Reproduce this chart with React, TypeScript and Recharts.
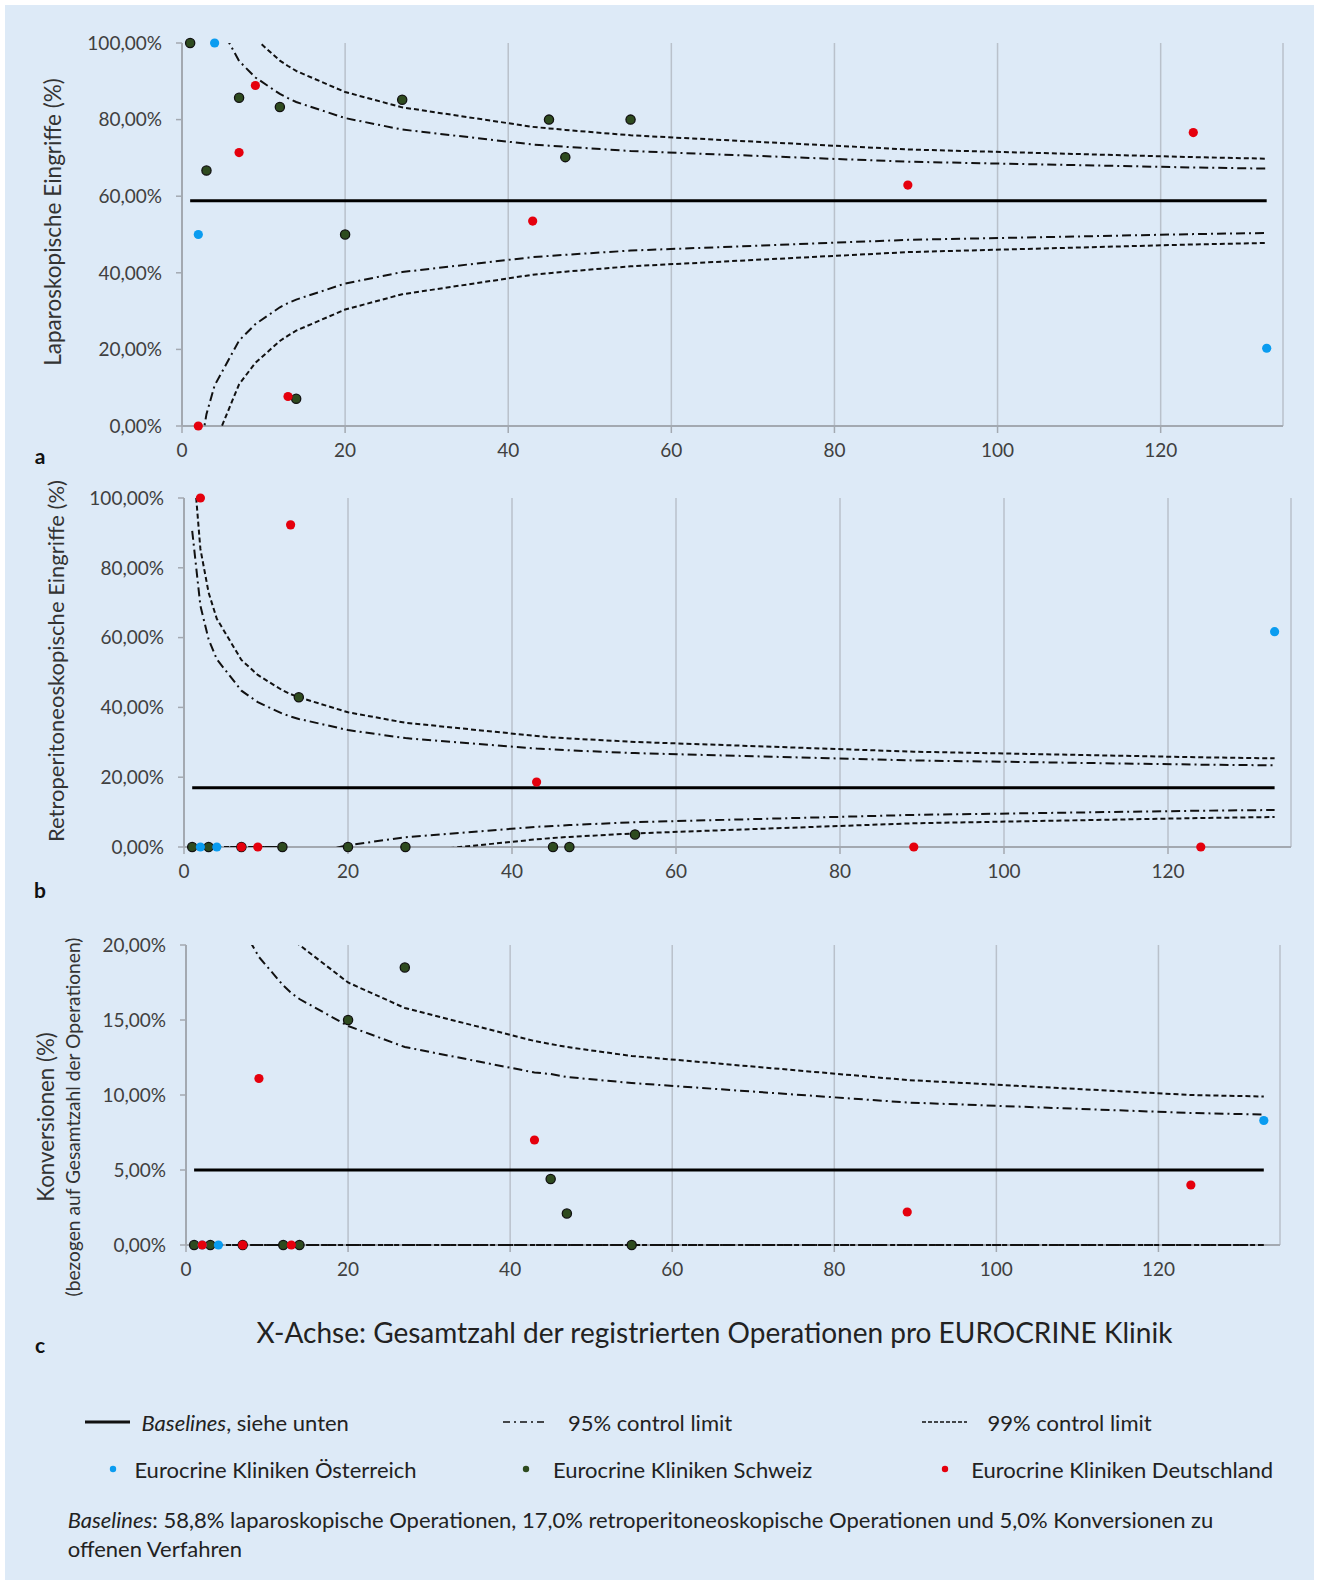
import { ComposedChart, Line, Scatter, XAxis, YAxis, CartesianGrid } from "recharts";

// Fallzahlen der Kliniken (x-Werte der Kontrollgrenzen)
const klinikN = [1, 2, 3, 4, 7, 9, 12, 13, 14, 20, 27, 43, 45, 47, 55, 89, 124, 133];
const baselineN = [1, 133];
const xTicks = [0, 20, 40, 60, 80, 100, 120];

// Österreich
const nAT = [2, 4, 133];
const lapAT = [50, 100, 20.3];
const retroAT = [0, 0, 61.7];
const konvAT = [0, 0, 8.3];

// Schweiz
const nCH = [1, 3, 7, 12, 14, 20, 27, 45, 47, 55];
const lapCH = [100, 66.7, 85.7, 83.3, 7.1, 50, 85.2, 80, 70.2, 80];
const retroCH = [0, 0, 0, 0, 42.9, 0, 0, 0, 0, 3.6];
const konvCH = [0, 0, 0, 0, 0, 15, 18.5, 4.4, 2.1, 0];

// Deutschland
const nDE = [2, 7, 9, 13, 43, 89, 124];
const lapDE = [0, 71.4, 88.9, 7.7, 53.5, 62.9, 76.6];
const retroDE = [100, 0, 0, 92.3, 18.6, 0, 0];
const konvDE = [0, 0, 11.1, 0, 7.0, 2.2, 4.0];

// Kontrollgrenzen a (laparoskopisch)
const lapUp95 = [155, 127, 114.5, 107, 95.3, 91, 86.7, 85.6, 84.6, 80.4, 77.4, 73.5, 73.2, 72.9, 71.8, 69, 67.5, 67.2];
const lapLo95 = [-37.7, -9.4, 3.1, 10.6, 22.3, 26.6, 31, 32.1, 33, 37.2, 40.2, 44.1, 44.4, 44.7, 45.8, 48.6, 50.1, 50.4];
const lapUp99 = [185.6, 148.4, 132, 122.2, 106.7, 101.1, 95.4, 94, 92.7, 87.2, 83.2, 78.1, 77.7, 77.3, 75.9, 72.2, 70.2, 69.8];
const lapLo99 = [-68, -30.8, -14.4, -4.6, 10.9, 16.5, 22.2, 23.6, 24.9, 30.4, 34.4, 39.5, 39.9, 40.3, 41.7, 45.4, 47.4, 47.8];

// Kontrollgrenzen b (retroperitoneoskopisch)
const retroUp95 = [90.6, 69.1, 59.5, 53.8, 44.8, 41.5, 38.2, 37.4, 36.7, 33.5, 31.2, 28.2, 28, 27.7, 26.9, 24.8, 23.6, 23.4];
const retroLo95 = [0, 0, 0, 0, 0, 0, 0, -3.4, -2.7, 0.5, 2.8, 5.8, 6, 6.3, 7.1, 9.2, 10.4, 10.6];
const retroUp99 = [113.8, 85.4, 72.9, 65.4, 53.6, 49.3, 44.9, 43.8, 42.9, 38.6, 35.6, 31.8, 31.4, 31.1, 30.1, 27.3, 25.7, 25.4];
const retroLo99 = [0, 0, 0, 0, 0, 0, 0, -9.8, -8.9, -4.6, -1.6, 2.2, 2.6, 2.9, 3.9, 6.8, 8.3, 8.6];

// Kontrollgrenzen c (Konversionen)
const konvUp95 = [47.7, 35.2, 29.7, 26.4, 21.1, 19.2, 17.3, 16.8, 16.4, 14.6, 13.2, 11.5, 11.4, 11.2, 10.8, 9.5, 8.8, 8.7];
const konvLo95 = [0, 0, 0, 0, 0, 0, 0, 0, 0, 0, 0, 0, 0, 0, 0, 0, 0, 0];
const konvUp99 = [61.1, 44.7, 37.4, 33.1, 26.2, 23.7, 21.2, 20.6, 20, 17.5, 15.8, 13.6, 13.4, 13.2, 12.6, 11, 10, 9.9];
const konvLo99 = [0, 0, 0, 0, 0, 0, 0, 0, 0, 0, 0, 0, 0, 0, 0, 0, 0, 0];

const W = 1319;
const Y_AXIS_W = 100;
const X_AXIS_H = 30;
const BLUE = "#0a9cf0";
const GREEN = "#2e4b1f";
const RED = "#e5000d";
const AXIS = "#a3a9b1";
const GRID = "#b9c1cb";
const DASH95 = "9 4 2 4";
const DASH99 = "5 3";

const pts = (ns: number[], vs: number[]) => ns.map((n, i) => ({ n, v: vs[i] }));
const pct = (v: number) => v.toFixed(2).replace(".", ",") + "%";

interface PanelProps {
  top: number;
  height: number;
  plotLeft: number;
  plotTop: number;
  plotWidth: number;
  plotHeight: number;
  yMax: number;
  yTicks: number[];
  baseline: number;
  up95: number[];
  lo95: number[];
  up99: number[];
  lo99: number[];
  at: number[];
  ch: number[];
  de: number[];
}

const Panel = (p: PanelProps) => {
  const margin = {
    top: p.plotTop - p.top,
    left: p.plotLeft - Y_AXIS_W,
    right: W - p.plotLeft - p.plotWidth,
    bottom: p.height - (p.plotTop - p.top) - p.plotHeight - X_AXIS_H,
  };
  const axisFor = (vs: number[]) => (vs.every((v) => v >= 0 && v <= p.yMax) ? "pts" : "clip");
  const limits = [
    { vs: p.lo99, dash: DASH99 },
    { vs: p.up99, dash: DASH99 },
    { vs: p.lo95, dash: DASH95 },
    { vs: p.up95, dash: DASH95 },
  ];
  const dot = (fill: string, stroke?: string) => (s: any) =>
    <circle cx={s.cx} cy={s.cy} r={4.6} fill={fill} stroke={stroke ?? "none"} strokeWidth={stroke ? 1.3 : 0} />;
  const tickStyle = { fill: "#404040", fontSize: 19, fontFamily: "Lato" };

  return (
    <div style={{ position: "absolute", left: 0, top: p.top }}>
      <ComposedChart width={W} height={p.height} margin={margin}>
        <CartesianGrid horizontal={false} stroke={GRID} strokeWidth={1.5} yAxisId="pts" />
        <XAxis
          dataKey="n"
          type="number"
          domain={[0, 135]}
          ticks={xTicks}
          height={X_AXIS_H}
          axisLine={{ stroke: AXIS, strokeWidth: 2 }}
          tickLine={{ stroke: AXIS, strokeWidth: 1.5 }}
          tickSize={7}
          tickMargin={11}
          tick={tickStyle}
        />
        <YAxis
          yAxisId="pts"
          type="number"
          domain={[0, p.yMax]}
          ticks={p.yTicks}
          width={Y_AXIS_W}
          tickFormatter={pct}
          axisLine={{ stroke: AXIS, strokeWidth: 2 }}
          tickLine={{ stroke: AXIS, strokeWidth: 1.5 }}
          tickSize={6}
          tickMargin={14}
          tick={tickStyle}
        />
        <YAxis yAxisId="clip" type="number" domain={[0, p.yMax]} allowDataOverflow hide width={0} />
        {limits.map((l, i) => (
          <Line
            key={i}
            data={pts(klinikN, l.vs)}
            dataKey="v"
            yAxisId={axisFor(l.vs)}
            type="linear"
            stroke="#111"
            strokeWidth={2}
            strokeDasharray={l.dash}
            dot={false}
            activeDot={false}
            isAnimationActive={false}
            {...({ zIndex: 550 } as any)}
          />
        ))}
        <Line
          data={pts(baselineN, [p.baseline, p.baseline])}
          dataKey="v"
          yAxisId="pts"
          type="linear"
          stroke="#000"
          strokeWidth={3}
          dot={false}
          activeDot={false}
          isAnimationActive={false}
          {...({ zIndex: 550 } as any)}
        />
        <Scatter data={pts(nCH, p.ch)} dataKey="v" yAxisId="pts" shape={dot(GREEN, "#111")} isAnimationActive={false} />
        <Scatter data={pts(nAT, p.at)} dataKey="v" yAxisId="pts" shape={dot(BLUE)} isAnimationActive={false} />
        <Scatter data={pts(nDE, p.de)} dataKey="v" yAxisId="pts" shape={dot(RED)} isAnimationActive={false} />
      </ComposedChart>
    </div>
  );
};

const VLabel = ({ x, y, size, children }: { x: number; y: number; size: number; children: any }) => (
  <div
    style={{
      position: "absolute",
      left: x,
      top: y,
      transform: "translate(-50%, -50%) rotate(-90deg)",
      whiteSpace: "nowrap",
      fontSize: size,
      color: "#333",
    }}
  >
    {children}
  </div>
);

const Letter = ({ y, children }: { y: number; children: any }) => (
  <div style={{ position: "absolute", left: 40, top: y, transform: "translate(-50%, -50%)", fontSize: 21, fontWeight: 700, color: "#111" }}>
    {children}
  </div>
);

const LegendText = ({ x, y, children }: { x: number; y: number; children: any }) => (
  <div style={{ position: "absolute", left: x, top: y, transform: "translateY(-50%)", fontSize: 22, color: "#222", whiteSpace: "nowrap" }}>
    {children}
  </div>
);

const LegendLine = ({ x, y, dash, w }: { x: number; y: number; dash?: string; w: number }) => (
  <svg style={{ position: "absolute", left: x, top: y - 3 }} width={46} height={6}>
    <line x1={0} y1={3} x2={45} y2={3} stroke="#111" strokeWidth={w} strokeDasharray={dash} />
  </svg>
);

const LegendDot = ({ x, y, color }: { x: number; y: number; color: string }) => (
  <svg style={{ position: "absolute", left: x - 4, top: y - 4 }} width={8} height={8}>
    <circle cx={4} cy={4} r={3.2} fill={color} />
  </svg>
);

export default function App() {
  return (
    <div style={{ position: "absolute", left: 0, top: 0, width: W, height: 1585, background: "#fff", fontFamily: "Lato, sans-serif" }}>
      <div style={{ position: "absolute", left: 5, top: 5, width: W - 10, height: 1575, background: "#ddeaf7" }} />

      <Panel
        top={0}
        height={470}
        plotLeft={182}
        plotTop={43}
        plotWidth={1101}
        plotHeight={383}
        yMax={100}
        yTicks={[0, 20, 40, 60, 80, 100]}
        baseline={58.8}
        up95={lapUp95}
        lo95={lapLo95}
        up99={lapUp99}
        lo99={lapLo99}
        at={lapAT}
        ch={lapCH}
        de={lapDE}
      />
      <Panel
        top={460}
        height={440}
        plotLeft={184}
        plotTop={498}
        plotWidth={1107}
        plotHeight={349}
        yMax={100}
        yTicks={[0, 20, 40, 60, 80, 100]}
        baseline={17}
        up95={retroUp95}
        lo95={retroLo95}
        up99={retroUp99}
        lo99={retroLo99}
        at={retroAT}
        ch={retroCH}
        de={retroDE}
      />
      <Panel
        top={905}
        height={380}
        plotLeft={186}
        plotTop={945}
        plotWidth={1094}
        plotHeight={300}
        yMax={20}
        yTicks={[0, 5, 10, 15, 20]}
        baseline={5}
        up95={konvUp95}
        lo95={konvLo95}
        up99={konvUp99}
        lo99={konvLo99}
        at={konvAT}
        ch={konvCH}
        de={konvDE}
      />

      <VLabel x={51.5} y={221.5} size={22.5}>Laparoskopische Eingriffe (%)</VLabel>
      <VLabel x={55} y={660.5} size={22}>Retroperitoneoskopische Eingriffe (%)</VLabel>
      <VLabel x={45} y={1117} size={22.3}>Konversionen (%)</VLabel>
      <VLabel x={72} y={1116.5} size={19.2}>(bezogen auf Gesamtzahl der Operationen)</VLabel>

      <Letter y={455}>a</Letter>
      <Letter y={889}>b</Letter>
      <Letter y={1344}>c</Letter>

      <div style={{ position: "absolute", left: 714.5, top: 1332, transform: "translate(-50%, -50%)", fontSize: 28, color: "#222", whiteSpace: "nowrap" }}>
        X-Achse: Gesamtzahl der registrierten Operationen pro EUROCRINE Klinik
      </div>

      <LegendLine x={85} y={1422} w={3} />
      <LegendText x={141.5} y={1422}><i>Baselines</i>, siehe unten</LegendText>
      <LegendLine x={503} y={1422} w={1.5} dash="7 4 2 4" />
      <LegendText x={568} y={1422}>95% control limit</LegendText>
      <LegendLine x={922} y={1422} w={1.5} dash="4 2" />
      <LegendText x={987.5} y={1422}>99% control limit</LegendText>

      <LegendDot x={113} y={1468.5} color={BLUE} />
      <LegendText x={134.4} y={1468.5}>Eurocrine Kliniken Österreich</LegendText>
      <LegendDot x={525.6} y={1468.5} color={GREEN} />
      <LegendText x={553} y={1468.5}>Eurocrine Kliniken Schweiz</LegendText>
      <LegendDot x={945} y={1468.5} color={RED} />
      <LegendText x={971.3} y={1468.5}>Eurocrine Kliniken Deutschland</LegendText>

      <div style={{ position: "absolute", left: 67.7, top: 1506, fontSize: 22, lineHeight: "28.5px", color: "#222", whiteSpace: "nowrap" }}>
        <i>Baselines</i>: 58,8% laparoskopische Operationen, 17,0% retroperitoneoskopische Operationen und 5,0% Konversionen zu
        <br />
        offenen Verfahren
      </div>
    </div>
  );
}
